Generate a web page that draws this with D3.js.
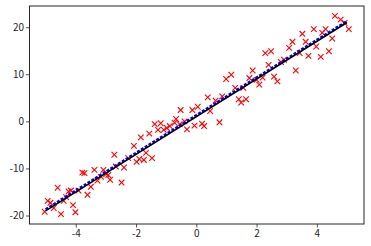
<!DOCTYPE html>
<html>
<head>
<meta charset="utf-8">
<script src="https://cdn.jsdelivr.net/npm/d3@7"></script>
<style>
  body { margin: 0; background: #fff; }
  .tick text { font-family: "Noto Sans CJK SC", "DejaVu Sans", sans-serif; font-size: 10px; fill: #262626; }
</style>
</head>
<body>
<div id="chart"></div>
<script>
// scatter points (x, y)
const pointsX = [
  -5.03, -4.93, -4.84, -4.73, -4.60, -4.49, -4.40, -4.32, -4.24, -4.16,
  -4.09, -4.01, -3.91, -3.78, -3.71, -3.61, -3.50, -3.38, -3.28, -3.16,
  -3.08, -2.99, -2.92, -2.86, -2.72, -2.67, -2.48, -2.40, -2.26,
  -2.07, -1.98, -1.89, -1.84, -1.74, -1.67, -1.56, -1.47, -1.38, -1.27,
  -1.18, -1.08, -0.98, -0.88, -0.72, -0.67, -0.55, -0.52, -0.39, -0.31,
  -0.06, 0.19, 0.26, 0.77,
  -0.13, 0.05, 0.38, 0.46, 0.64, 0.86, 0.99, 1.16, 1.29, 1.41,
  1.49, 1.56, 1.65, 1.76, 1.87, 2.00, 2.09, 2.20, 2.29, 2.40,
  2.48, 2.58, 2.69, 2.81, 2.91, 3.08, 3.19, 3.30, 3.43, 3.52,
  3.63, 3.72, 3.90, 3.98, 4.13, 4.18, 4.29, 4.40, 4.51, 4.60,
  4.79, 4.92, 5.06
];
const pointsY = [
  -19.2, -16.9, -17.3, -18.4, -14.1, -19.7, -16.9, -16.1, -14.9, -14.7,
  -17.8, -19.3, -14.7, -10.9, -11.0, -15.6, -13.9, -10.3, -12.6, -11.8,
  -10.3, -11.2, -11.4, -12.4, -7.1, -9.6, -13.0, -9.8, -7.8,
  -5.2, -8.6, -8.0, -3.4, -8.2, -6.7, -2.6, -7.8, -0.6, -1.8,
  -0.4, -1.8, -1.4, -1.0, -0.3, 0.5, -0.6, 2.4, 0.0, -1.7,
  -0.9, -0.5, -1.0, -0.2,
  2.4, 3.1, 5.1, 2.2, 4.4, 5.3, 9.0, 9.9, 7.1, 4.7,
  4.0, 7.1, 4.7, 9.2, 10.8, 8.8, 7.8, 9.3, 14.5, 12.0,
  14.9, 9.5, 8.5, 12.6, 13.1, 15.6, 16.9, 10.8, 14.5, 18.6,
  16.9, 13.9, 19.6, 15.9, 13.7, 18.8, 19.6, 14.9, 17.6, 22.4,
  21.6, 20.9, 19.6
];

// the two fitted lines (blue underneath, black on top)
const lineX = [-5, 5];
const blueY = [-18.7, 21.3];
const blackY = [-19, 21];

const xTicks = [-4, -2, 0, 2, 4];
const yTicks = [-20, -10, 0, 10, 20];

const width = 371, height = 246;
const margin = { top: 6, right: 7, bottom: 22, left: 29.5 };
const plotW = width - margin.left - margin.right;
const plotH = height - margin.top - margin.bottom;

const svg = d3.select("#chart")
  .append("svg")
  .attr("width", width)
  .attr("height", height);

const g = svg.append("g")
  .attr("transform", `translate(${margin.left}, ${margin.top})`);

// matplotlib style 5% padding around the data
function padded(values) {
  const [lo, hi] = d3.extent(values);
  const pad = (hi - lo) * 0.05;
  return [lo - pad, hi + pad];
}

const x = d3.scaleLinear()
  .domain(padded(pointsX.concat(lineX)))
  .range([0, plotW]);

const y = d3.scaleLinear()
  .domain(padded(pointsY.concat(blueY, blackY)))
  .range([plotH, 0]);

// scatter markers 'x'
const s = 2.8;
const marks = g.append("g")
  .attr("stroke", "#ff0000")
  .attr("stroke-width", 1.1)
  .attr("fill", "none");

marks.selectAll("path")
  .data(pointsX.map((d, i) => [d, pointsY[i]]))
  .enter()
  .append("path")
  .attr("d", d => {
    const px = x(d[0]), py = y(d[1]);
    return `M${px - s},${py - s}L${px + s},${py + s}M${px - s},${py + s}L${px + s},${py - s}`;
  });

// lines
const line = d3.line()
  .x(d => x(d[0]))
  .y(d => y(d[1]));

g.append("path")
  .datum(lineX.map((d, i) => [d, blueY[i]]))
  .attr("d", line)
  .attr("fill", "none")
  .attr("stroke", "#0000ff")
  .attr("stroke-width", 2.5)
  .attr("stroke-dasharray", "3,1.5");

g.append("path")
  .datum(lineX.map((d, i) => [d, blackY[i]]))
  .attr("d", line)
  .attr("fill", "none")
  .attr("stroke", "#000000")
  .attr("stroke-width", 1.5);

// axes
const xAxis = g.append("g")
  .attr("transform", `translate(0, ${plotH})`)
  .call(d3.axisBottom(x).tickValues(xTicks).tickSize(3.5).tickPadding(2).tickFormat(d => String(d)));

const yAxis = g.append("g")
  .call(d3.axisLeft(y).tickValues(yTicks).tickSize(3.5).tickPadding(2).tickFormat(d => String(d)));

[xAxis, yAxis].forEach(a => {
  a.select(".domain").remove();
  a.selectAll(".tick line").attr("stroke", "#262626").attr("stroke-width", 0.8);
});

// frame
g.append("rect")
  .attr("x", 0)
  .attr("y", 0)
  .attr("width", plotW)
  .attr("height", plotH)
  .attr("fill", "none")
  .attr("stroke", "#262626")
  .attr("stroke-width", 1);
</script>
</body>
</html>
